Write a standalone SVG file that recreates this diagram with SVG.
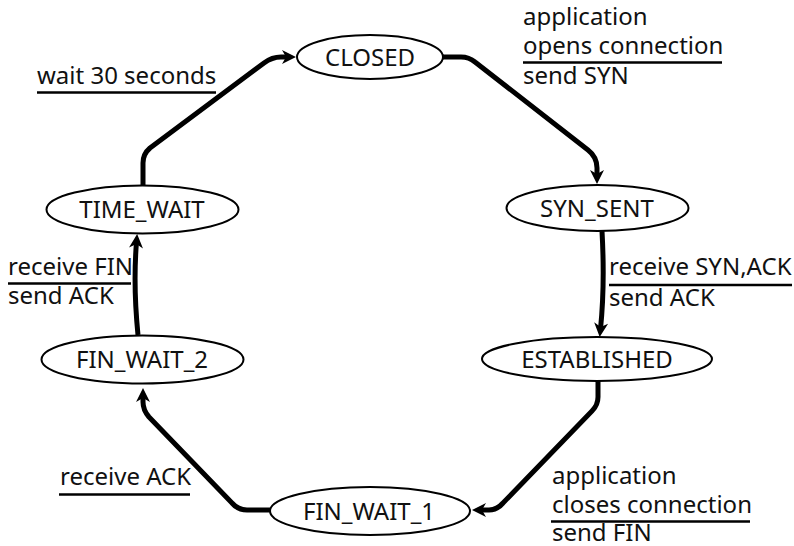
<svg xmlns="http://www.w3.org/2000/svg" width="794" height="546" viewBox="0 0 794 546">
<defs>
<style>
text{font-family:"Noto Sans","Open Sans","DejaVu Sans",sans-serif;font-size:24px;fill:#111}
.node ellipse{fill:#fff;stroke:#000;stroke-width:2}
.node text{text-anchor:middle}
.conn{fill:none;stroke:#000;stroke-width:5;stroke-linejoin:round}
.rule{stroke:#000;stroke-width:2.5}
</style>
<marker id="arr" viewBox="0 0 16 16" markerWidth="16" markerHeight="16" refX="7" refY="8" orient="auto" markerUnits="userSpaceOnUse">
<path d="M1,1 L15,8 L1,15 L5,8 Z" fill="#000"/>
</marker>
</defs>
<rect width="794" height="546" fill="#fff"/>
<g id="connectors">
<path class="conn" marker-end="url(#arr)" d="M443,57 L461,57 Q469,57 475,62 L588,150 Q597,157 597,168 L597,176"/>
<path class="conn" marker-end="url(#arr)" d="M602,231 Q605,285 600.5,329"/>
<path class="conn" marker-end="url(#arr)" d="M598,381 L598,397 Q598,405 592,411 L503,503 Q497,510 489,510 L480,510"/>
<path class="conn" marker-end="url(#arr)" d="M270,510 L247,510 Q238,510 232,503 L149,417 Q143,410 143,402 L143,396"/>
<path class="conn" marker-end="url(#arr)" d="M138,335 Q133,285 136.5,242"/>
<path class="conn" marker-end="url(#arr)" d="M143,185 L143,163 Q143,154 150,148 L264,63 Q272,57 281,57 L288,57"/>
</g>
<g id="CLOSED" class="node"><ellipse cx="370" cy="57" rx="73" ry="22"/><text x="370" y="65.5">CLOSED</text></g>
<g id="SYN_SENT" class="node"><ellipse cx="597.5" cy="208" rx="91" ry="23"/><text x="597" y="216.5">SYN_SENT</text></g>
<g id="ESTABLISHED" class="node"><ellipse cx="597" cy="359" rx="115" ry="22"/><text x="597" y="367.5">ESTABLISHED</text></g>
<g id="FIN_WAIT_1" class="node"><ellipse cx="370" cy="511" rx="100" ry="24"/><text x="369" y="519.5">FIN_WAIT_1</text></g>
<g id="FIN_WAIT_2" class="node"><ellipse cx="142.5" cy="359.5" rx="101" ry="24"/><text x="142" y="368">FIN_WAIT_2</text></g>
<g id="TIME_WAIT" class="node"><ellipse cx="142.5" cy="209.5" rx="96" ry="24"/><text x="142" y="218">TIME_WAIT</text></g>
<g id="labels">
<text x="523" y="25">application</text>
<text x="523" y="53.5">opens connection</text>
<line class="rule" x1="523" y1="62.5" x2="722" y2="62.5"/>
<text x="523" y="83.5">send SYN</text>
<text x="37" y="83.5">wait 30 seconds</text>
<line class="rule" x1="37" y1="92.5" x2="216" y2="92.5"/>
<text x="8" y="275">receive FIN</text>
<line class="rule" x1="8" y1="283.5" x2="131" y2="283.5"/>
<text x="8" y="304">send ACK</text>
<text x="609" y="275">receive SYN,ACK</text>
<line class="rule" x1="609" y1="285" x2="792" y2="285"/>
<text x="609" y="306">send ACK</text>
<text x="60" y="485">receive ACK</text>
<line class="rule" x1="59" y1="494.5" x2="190" y2="494.5"/>
<text x="552" y="483.5">application</text>
<text x="552" y="512.5">closes connection</text>
<line class="rule" x1="551" y1="521.5" x2="750" y2="521.5"/>
<text x="552" y="541">send FIN</text>
</g>
</svg>
